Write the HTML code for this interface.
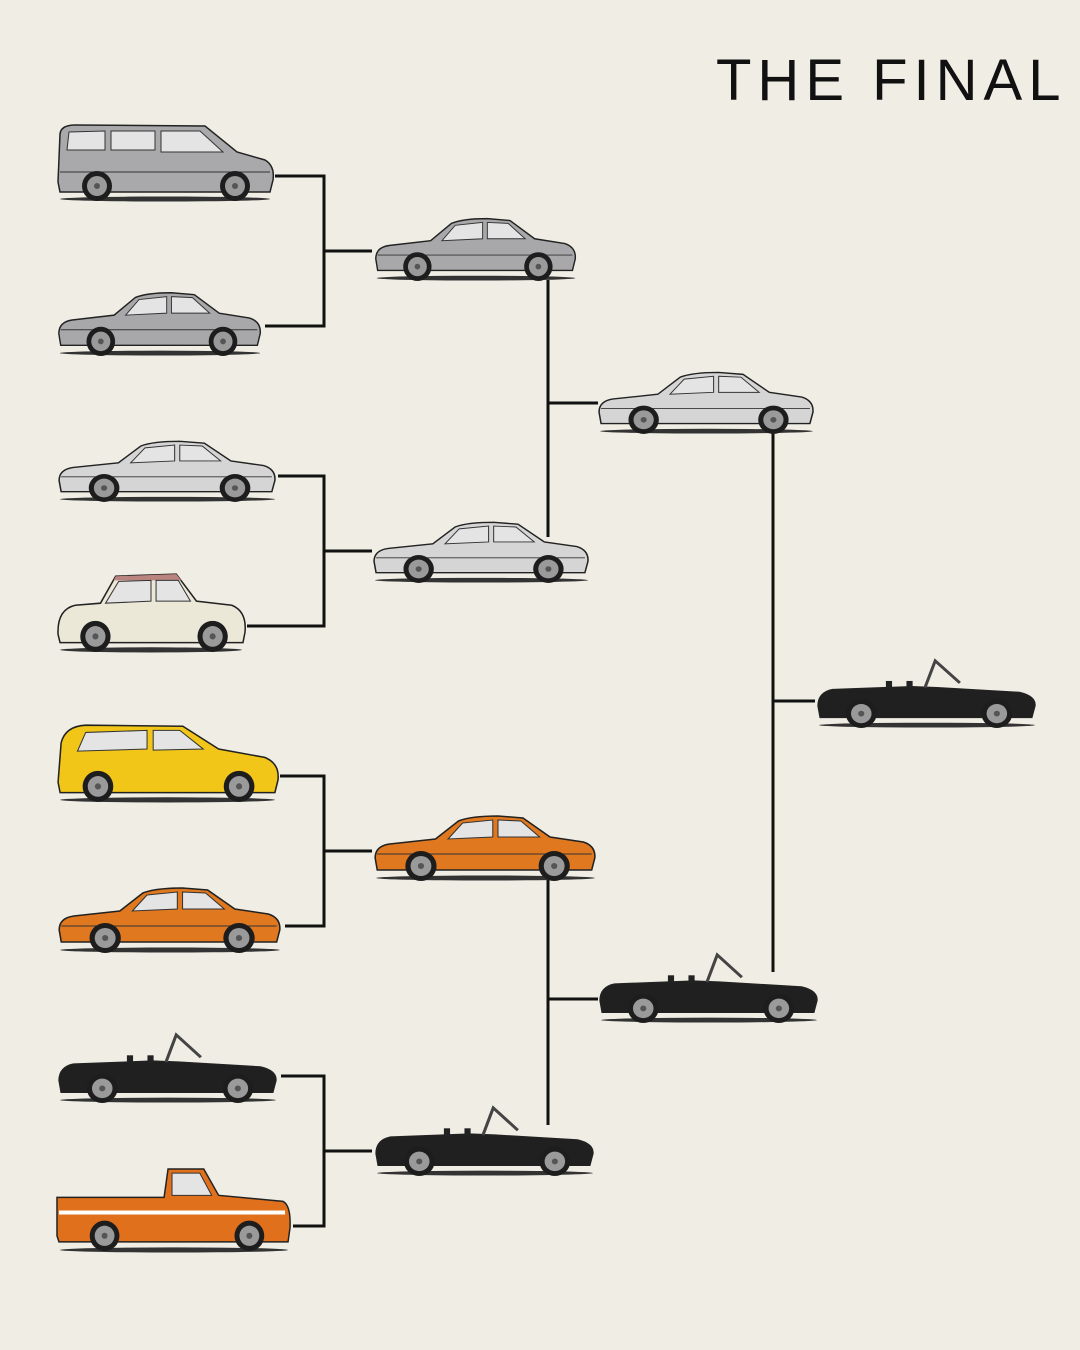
<!DOCTYPE html>
<html><head><meta charset="utf-8"><style>
html,body{margin:0;padding:0;background:#f0eee4;}
body{width:1080px;height:1350px;position:relative;overflow:hidden;}
.t{position:absolute;left:716px;top:52px;font-family:"Liberation Sans",sans-serif;font-size:58px;letter-spacing:6px;color:#111;font-weight:400;line-height:1;}
svg{position:absolute;left:0;top:0;}
</style></head><body>
<div class="t">THE FINAL</div>
<svg width="1080" height="1350" viewBox="0 0 1080 1350">
<defs>
<g id="wh"><circle r="15" fill="#1d1d1d"/><circle r="10" fill="#9a9a9a"/><circle r="3" fill="#555"/></g>
<symbol id="coupe" viewBox="0 0 220 75" preserveAspectRatio="none">
<ellipse cx="110" cy="72" rx="105" ry="2.5" fill="#333"/>
<path d="M4,52 Q4,40 18,38 L62,33 L84,15 Q96,10 122,10 L146,12 L172,31 L204,36 Q216,40 215,52 L212,64 L6,64 Z" fill="currentColor" stroke="#222" stroke-width="1.5"/>
<path d="M88,17 L117,14 L117,31 L74,33 Z M122,14 L144,15 L162,31 L122,31 Z" fill="#e4e4e4" stroke="#333"/>
<line x1="6" y1="48" x2="212" y2="48" stroke="#333" stroke-width="1"/>
<use href="#wh" x="48" y="60"/><use href="#wh" x="176" y="60"/>
</symbol>
<symbol id="conv" viewBox="0 0 220 75" preserveAspectRatio="none">
<ellipse cx="110" cy="72" rx="105" ry="2.5" fill="#333"/>
<path d="M4,52 Q4,38 18,35 L95,32 L120,33 L200,38 Q216,42 215,52 L212,64 L6,64 Z" fill="currentColor" stroke="#222" stroke-width="1.5"/>
<path d="M108,33 L118,5 L142,28" fill="none" stroke="#444" stroke-width="3"/>
<rect x="70" y="26" width="6" height="8" fill="#222"/><rect x="90" y="26" width="6" height="8" fill="#222"/>
<use href="#wh" x="46" y="60"/><use href="#wh" x="178" y="60"/>
</symbol>
<symbol id="van" viewBox="0 0 220 80" preserveAspectRatio="none">
<ellipse cx="110" cy="77" rx="105" ry="2.5" fill="#333"/>
<path d="M3,60 L5,12 Q6,3 20,3 L150,4 L182,30 L210,38 Q220,44 218,58 L215,70 L5,70 Z" fill="currentColor" stroke="#222" stroke-width="1.5"/>
<path d="M14,10 L50,9 L50,28 L12,28 Z M56,9 L100,9 L100,28 L56,28 Z M106,9 L145,9 L168,30 L106,30 Z" fill="#e4e4e4" stroke="#333"/>
<line x1="5" y1="50" x2="215" y2="50" stroke="#333"/>
<use href="#wh" x="42" y="64"/><use href="#wh" x="180" y="64"/>
</symbol>
<symbol id="hatch" viewBox="0 0 220 80" preserveAspectRatio="none">
<ellipse cx="110" cy="77" rx="105" ry="2.5" fill="#333"/>
<path d="M3,60 L6,22 Q10,6 30,5 L125,6 L160,28 L205,36 Q220,42 218,58 L215,70 L5,70 Z" fill="currentColor" stroke="#222" stroke-width="1.5"/>
<path d="M30,12 L90,10 L90,28 L22,30 Z M96,10 L122,10 L145,28 L96,29 Z" fill="#e4e4e4" stroke="#333"/>
<use href="#wh" x="42" y="64"/><use href="#wh" x="180" y="64"/>
</symbol>
<symbol id="micro" viewBox="0 0 190 80" preserveAspectRatio="none">
<ellipse cx="95" cy="77" rx="90" ry="2.5" fill="#333"/>
<path d="M3,62 Q2,38 20,34 L45,32 L60,6 L120,4 L140,30 L175,34 Q190,40 188,60 L186,70 L5,70 Z" fill="currentColor" stroke="#222" stroke-width="1.5"/>
<path d="M60,6 L120,4 L125,10 L58,10 Z" fill="#b98480"/>
<path d="M63,11 L95,10 L95,30 L50,32 Z M100,10 L122,10 L134,30 L100,30 Z" fill="#e4e4e4" stroke="#333"/>
<use href="#wh" x="40" y="64"/><use href="#wh" x="156" y="64"/>
</symbol>
<symbol id="truck" viewBox="0 0 240 85" preserveAspectRatio="none">
<ellipse cx="120" cy="82" rx="115" ry="2.5" fill="#333"/>
<path d="M2,68 L2,30 L110,30 L114,2 L150,2 L165,28 L230,34 Q238,38 237,60 L235,74 L4,74 Z" fill="currentColor" stroke="#222" stroke-width="1.5"/>
<path d="M118,6 L146,6 L158,28 L118,28 Z" fill="#e4e4e4" stroke="#333"/>
<line x1="4" y1="45" x2="232" y2="45" stroke="#fff" stroke-width="4"/>
<use href="#wh" x="50" y="68"/><use href="#wh" x="196" y="68"/>
</symbol>
</defs>

<g stroke="#111" stroke-width="3" fill="none">
<polyline points="275,176 324,176 324,326 265,326"/><line x1="324" y1="251" x2="372" y2="251"/>
<polyline points="278,476 324,476 324,626 247,626"/><line x1="324" y1="551" x2="372" y2="551"/>
<polyline points="280,776 324,776 324,926 285,926"/><line x1="324" y1="851" x2="372" y2="851"/>
<polyline points="281,1076 324,1076 324,1226 293,1226"/><line x1="324" y1="1151" x2="372" y2="1151"/>
<line x1="548" y1="280" x2="548" y2="537"/><line x1="548" y1="403" x2="598" y2="403"/>
<line x1="548" y1="880" x2="548" y2="1125"/><line x1="548" y1="999" x2="598" y2="999"/>
<line x1="773" y1="432" x2="773" y2="972"/><line x1="773" y1="701" x2="815" y2="701"/>
</g>

<use href="#van" x="55" y="122" width="220" height="80" color="#a9a9ab"/>
<use href="#coupe" x="55" y="283" width="210" height="73" color="#a8a8aa"/>
<use href="#coupe" x="55" y="432" width="225" height="70" color="#d5d5d5"/>
<use href="#micro" x="55" y="570" width="192" height="83" color="#ece8d8"/>
<use href="#hatch" x="55" y="720" width="225" height="83" color="#f2c618"/>
<use href="#coupe" x="55" y="878" width="230" height="75" color="#e0781f"/>
<use href="#conv" x="55" y="1030" width="226" height="73" color="#202020"/>
<use href="#truck" x="55" y="1167" width="238" height="86" color="#e0701c"/>

<use href="#coupe" x="372" y="209" width="208" height="72" color="#a8a8aa"/>
<use href="#coupe" x="370" y="513" width="223" height="70" color="#d5d5d5"/>
<use href="#coupe" x="371" y="806" width="229" height="75" color="#e0781f"/>
<use href="#conv" x="372" y="1103" width="226" height="73" color="#202020"/>

<use href="#coupe" x="595" y="363" width="223" height="71" color="#d5d5d5"/>
<use href="#conv" x="596" y="950" width="226" height="73" color="#202020"/>

<use href="#conv" x="814" y="656" width="226" height="72" color="#202020"/>
</svg>
</body></html>
